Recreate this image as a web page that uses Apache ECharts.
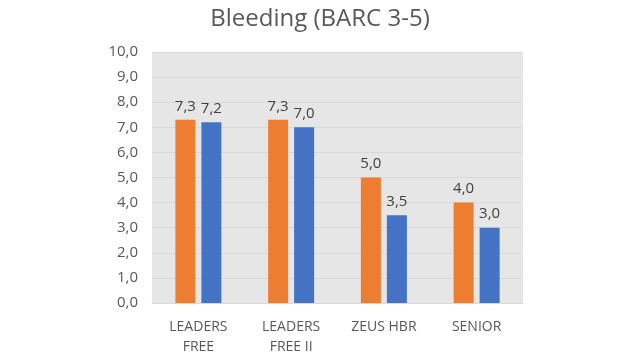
<!DOCTYPE html>
<html><head><meta charset="utf-8">
<script src="https://cdn.jsdelivr.net/npm/echarts@6/dist/echarts.min.js"></script>
<style>html,body{margin:0;padding:0;background:#fff}#c{width:640px;height:360px}</style>
</head><body><div id="c"></div>
<script>
const categories = ['LEADERS\nFREE', 'LEADERS\nFREE II', 'ZEUS HBR', 'SENIOR'];
const seriesA = [7.3, 7.3, 5.0, 4.0];
const seriesB = [7.2, 7.0, 3.5, 3.0];
const title = 'Bleeding (BARC 3-5)';
const fmt = v => v.toFixed(1).replace('.', ',');
const font = '"Open Sans", "Noto Sans", sans-serif';
const chart = echarts.init(document.getElementById('c'), null, {renderer: 'canvas'});
chart.setOption({
  animation: false,
  title: {text: title, left: 'center', top: 2, textStyle: {fontFamily: font, fontSize: 24, fontWeight: 'normal', color: '#595959'}},
  grid: {left: 152, right: 117, top: 52, bottom: 57, show: true, backgroundColor: '#E7E6E6', borderWidth: 0},
  xAxis: {type: 'category', data: categories,
    axisLine: {show: true, lineStyle: {color: '#D9D9D9'}}, axisTick: {show: false},
    axisLabel: {fontFamily: font, fontSize: 14, color: '#595959', margin: 14, lineHeight: 20, interval: 0}},
  yAxis: {type: 'value', min: 0, max: 10, interval: 1,
    axisLine: {show: false}, axisTick: {show: false},
    axisLabel: {fontFamily: font, fontSize: 15, color: '#595959', margin: 14, formatter: v => fmt(v)},
    splitLine: {lineStyle: {color: '#D9D9D9', width: 1}}},
  series: [
    {type: 'bar', data: seriesA, barWidth: 20, barGap: '30%', itemStyle: {color: '#ED7D31'},
     label: {show: true, position: 'top', distance: 6, fontFamily: font, fontSize: 15, color: '#404040', formatter: p => fmt(p.value)}},
    {type: 'bar', data: seriesB, barWidth: 20, itemStyle: {color: '#4472C4'},
     label: {show: true, position: 'top', distance: 6, fontFamily: font, fontSize: 15, color: '#404040', formatter: p => fmt(p.value)}}
  ]
});
</script></body></html>
